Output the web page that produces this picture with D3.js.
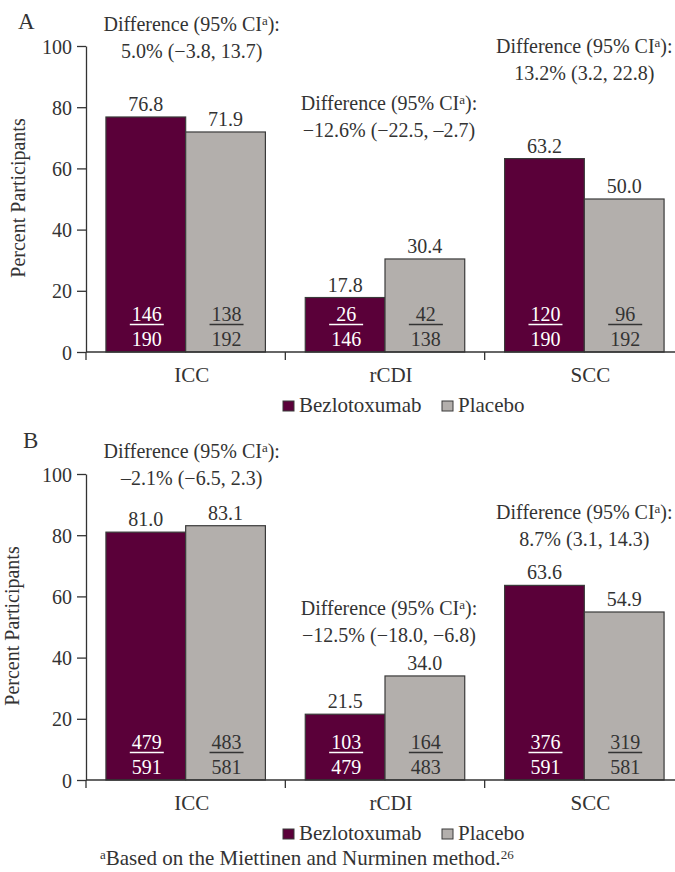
<!DOCTYPE html>
<html>
<head>
<meta charset="utf-8">
<script src="https://cdn.jsdelivr.net/npm/d3@7"></script>
<style>
  html, body { margin: 0; padding: 0; background: #fff; }
</style>
</head>
<body>
<svg id="chart" width="675" height="872"></svg>
<script>
// ---------- data ----------
const categories = ["ICC", "rCDI", "SCC"];
const seriesNames = ["Bezlotoxumab", "Placebo"];

const panelA_bezlo = [76.8, 17.8, 63.2];
const panelA_placebo = [71.9, 30.4, 50.0];
const panelA_bezloNum = [146, 26, 120];
const panelA_bezloDen = [190, 146, 190];
const panelA_placeboNum = [138, 42, 96];
const panelA_placeboDen = [192, 138, 192];
const panelA_diff = ["5.0% (\u22123.8, 13.7)", "\u221212.6% (\u221222.5, \u20132.7)", "13.2% (3.2, 22.8)"];

const panelB_bezlo = [81.0, 21.5, 63.6];
const panelB_placebo = [83.1, 34.0, 54.9];
const panelB_bezloNum = [479, 103, 376];
const panelB_bezloDen = [591, 479, 591];
const panelB_placeboNum = [483, 164, 319];
const panelB_placeboDen = [581, 483, 581];
const panelB_diff = ["\u20132.1% (\u22126.5, 2.3)", "\u221212.5% (\u221218.0, \u22126.8)", "8.7% (3.1, 14.3)"];

const yTicks = [0, 20, 40, 60, 80, 100];
const yTitle = "Percent Participants";
const footnote = "Based on the Miettinen and Nurminen method.";

// ---------- layout ----------
const FONT = "'Liberation Serif', 'Tinos', 'Times New Roman', serif";
const TXT = "#333333";
const colors = { "Bezlotoxumab": "#5a0039", "Placebo": "#b3afac" };
const textOn = { "Bezlotoxumab": "#ffffff", "Placebo": "#333333" };
const panels = [
  { label: "A", top: 0, labelX: 18, labelY: 29, titleX: 25, titleY: 198,
    bezlo: panelA_bezlo, placebo: panelA_placebo,
    bn: panelA_bezloNum, bd: panelA_bezloDen, pn: panelA_placeboNum, pd: panelA_placeboDen,
    diff: panelA_diff, diffY: [31, 110, 53], diffDX: [6, 4, 0], legendY: 412 },
  { label: "B", top: 428, labelX: 23, labelY: 20, titleX: 19, titleY: 198,
    bezlo: panelB_bezlo, placebo: panelB_placebo,
    bn: panelB_bezloNum, bd: panelB_bezloDen, pn: panelB_placeboNum, pd: panelB_placeboDen,
    diff: panelB_diff, diffY: [30, 187, 91], diffDX: [6, 4, 0], legendY: 412 }
];

const svg = d3.select("#chart");
const fmt = d3.format(".1f");
const axisColor = "#333";

panels.forEach(p => {
  const g = svg.append("g").attr("transform", `translate(0,${p.top})`);
  const y = d3.scaleLinear().domain([0, 100]).range([352, 46]);
  const x0 = d3.scaleBand().domain(categories).range([86, 684]).paddingInner(0).paddingOuter(0);
  const x1 = d3.scaleBand().domain(seriesNames).range([0, x0.bandwidth()]).paddingInner(0).paddingOuter(0.25);

  // y axis
  const ya = g.append("g").attr("transform", "translate(86,0)")
    .call(d3.axisLeft(y).tickValues(yTicks).tickSize(9).tickSizeOuter(0).tickPadding(5));
  ya.select(".domain").attr("stroke", axisColor).attr("stroke-width", 1.3);
  ya.selectAll(".tick line").attr("stroke", axisColor).attr("stroke-width", 1.3);
  ya.selectAll(".tick text").attr("font-size", 20).attr("dy", "0.35em");

  // y title
  g.append("text").attr("transform", `translate(${p.titleX},${p.titleY}) rotate(-90)`)
    .attr("text-anchor", "middle").attr("font-size", 20).text(yTitle);

  // panel label
  g.append("text").attr("x", p.labelX).attr("y", p.labelY).attr("font-size", 23).text(p.label);

  // bars
  const rows = categories.map((c, i) => ({
    cat: c, i,
    vals: [
      { s: "Bezlotoxumab", v: p.bezlo[i], n: p.bn[i], d: p.bd[i] },
      { s: "Placebo", v: p.placebo[i], n: p.pn[i], d: p.pd[i] }
    ]
  }));
  const grp = g.selectAll(".grp").data(rows).join("g").attr("class", "grp")
    .attr("transform", d => `translate(${x0(d.cat)},0)`);
  const bar = grp.selectAll(".bar").data(d => d.vals).join("g").attr("class", "bar");
  bar.append("rect")
    .attr("x", d => x1(d.s)).attr("width", x1.bandwidth())
    .attr("y", d => y(d.v)).attr("height", d => y(0) - y(d.v))
    .attr("fill", d => colors[d.s]).attr("stroke", "#3a3a3a").attr("stroke-width", 1.2);
  bar.append("text")
    .attr("x", d => x1(d.s) + x1.bandwidth() / 2).attr("y", d => y(d.v) - 6)
    .attr("text-anchor", "middle").attr("font-size", 20).text(d => fmt(d.v));
  // fractions
  bar.append("text").attr("class", "onbar")
    .attr("x", d => x1(d.s) + x1.bandwidth() / 2 + 1).attr("y", y(0) - 31)
    .attr("text-anchor", "middle").attr("font-size", 20)
    .attr("data-fill", d => textOn[d.s]).text(d => d.n);
  bar.append("line")
    .attr("x1", d => x1(d.s) + x1.bandwidth() / 2 - 16).attr("x2", d => x1(d.s) + x1.bandwidth() / 2 + 18)
    .attr("y1", y(0) - 27.5).attr("y2", y(0) - 27.5)
    .attr("stroke", d => textOn[d.s]).attr("stroke-width", 1.6);
  bar.append("text").attr("class", "onbar")
    .attr("x", d => x1(d.s) + x1.bandwidth() / 2 + 1).attr("y", y(0) - 6)
    .attr("text-anchor", "middle").attr("font-size", 20)
    .attr("data-fill", d => textOn[d.s]).text(d => d.d);

  // x axis
  g.append("line").attr("x1", 86).attr("x2", x0.range()[1]).attr("y1", y(0)).attr("y2", y(0))
    .attr("stroke", axisColor).attr("stroke-width", 1.3);
  const bounds = categories.map(c => x0(c)).concat([x0.range()[1]]);
  g.selectAll(".xtick").data(bounds).join("line").attr("class", "xtick")
    .attr("x1", d => d).attr("x2", d => d).attr("y1", y(0)).attr("y2", y(0) + 8)
    .attr("stroke", axisColor).attr("stroke-width", 1.3);
  g.selectAll(".xlab").data(categories).join("text").attr("class", "xlab")
    .attr("x", d => x0(d) + x0.bandwidth() / 2 + 6).attr("y", y(0) + 30)
    .attr("text-anchor", "middle").attr("font-size", 21).text(d => d);

  // difference annotations
  categories.forEach((c, i) => {
    const cx = x0(c) + x0.bandwidth() / 2 + p.diffDX[i];
    const t1 = g.append("text").attr("x", cx).attr("y", p.diffY[i]).attr("text-anchor", "middle").attr("font-size", 20);
    t1.append("tspan").text("Difference (95% CI");
    t1.append("tspan").attr("font-size", 13).attr("dy", -6).text("a");
    t1.append("tspan").attr("dy", 6).text("):");
    g.append("text").attr("x", cx).attr("y", p.diffY[i] + 27).attr("text-anchor", "middle")
      .attr("font-size", 20).text(p.diff[i]);
  });

  // legend
  const lg = g.append("g").attr("transform", `translate(0,${p.legendY})`);
  const legendX = [283, 442];
  seriesNames.forEach((s, i) => {
    lg.append("rect").attr("x", legendX[i]).attr("y", -11).attr("width", 11).attr("height", 10)
      .attr("fill", colors[s]).attr("stroke", "#3a3a3a").attr("stroke-width", 1);
    lg.append("text").attr("x", legendX[i] + 16).attr("y", 0).attr("font-size", 21).text(s);
  });
});

// footnote
const fn = svg.append("text").attr("x", 100).attr("y", 865).attr("font-size", 21);
fn.append("tspan").attr("font-size", 13).attr("dy", -6).text("a");
fn.append("tspan").attr("dy", 6).text(footnote);
fn.append("tspan").attr("font-size", 13).attr("dy", -6).text("26");

// font & colour for every text
svg.selectAll("text").style("font-family", FONT).style("fill", TXT);
svg.selectAll("text.onbar").style("fill", function () { return this.getAttribute("data-fill"); });
</script>
</body>
</html>
